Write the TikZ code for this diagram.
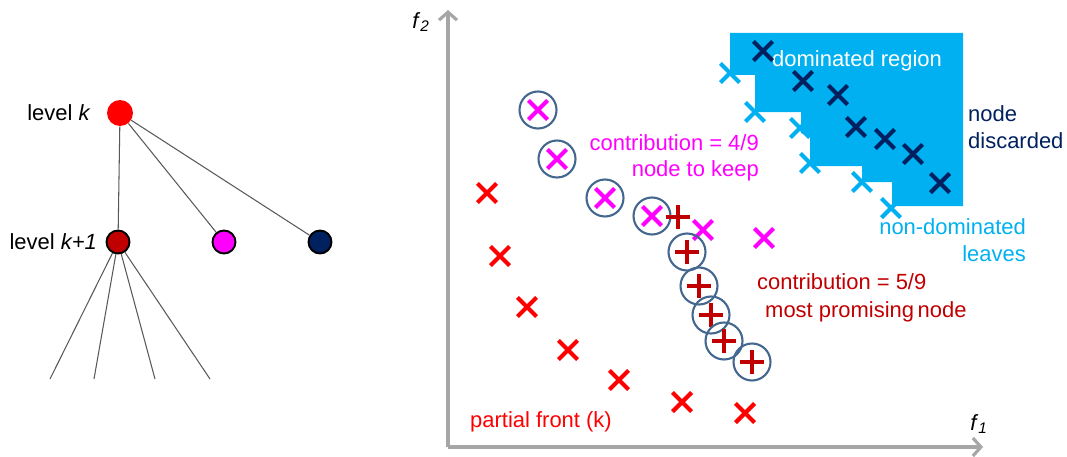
\documentclass[tikz,border=0pt]{standalone}
\usepackage{fontspec}
\setmainfont{Liberation Sans}
\usepackage{tikz}
\usetikzlibrary{positioning, arrows.meta, shapes.misc}
\definecolor{fRed}{HTML}{FF0000}
\definecolor{fDarkRed}{HTML}{C00000}
\definecolor{fMagenta}{HTML}{FF00FF}
\definecolor{fNavy}{HTML}{002060}
\definecolor{fCyan}{HTML}{00B0F0}
\definecolor{fRing}{HTML}{44678F}
\definecolor{fAxis}{HTML}{A6A6A6}
\tikzset{
	every node/.style={font=\fontsize{12.5}{15}\selectfont},
	xmark/.style={cross out, draw, line width=2.4pt, minimum size=0.3cm, inner sep=0pt},
	pmark/.style={xmark, rotate=45, minimum size=0.26cm, draw=fDarkRed},
	ring/.style={circle, draw=fRing, line width=1.2pt, minimum size=0.74cm, inner sep=0pt},
	axis/.style={draw=fAxis, line width=1.8pt, -{Straight Barb[length=0.16cm, width=0.36cm]}},
	branch/.style={draw=black!65, line width=0.6pt},
	kid/.style={circle, draw=black, line width=1.1pt, minimum size=0.46cm, inner sep=0pt},
}

\begin{document}
\begin{tikzpicture}[x=0.02cm, y=-0.02cm]
	\useasboundingbox (0,0) rectangle (1067,456);

	\node[circle, fill=fRed, minimum size=0.52cm, inner sep=0pt] (LK) at (120,113) {};
	\node[kid, fill=fDarkRed] (K1) at (118,242) {};
	\node[kid, fill=fMagenta] (K2) at (224,242) {};
	\node[kid, fill=fNavy] (K3) at (320,242) {};
	\node[left=0.2cm of LK] (LKtxt) {level \textit{k}};
	\node[left=0.05cm of K1] (K1txt) {level \textit{k+1}};
	\foreach \x [count=\i] in {50,94,155,210}
		\coordinate (g\i) at (\x,379);
	\draw[branch] (LK) -- (K1);
	\draw[branch] (LK) -- (K2);
	\draw[branch] (LK) -- (K3);
	\foreach \i in {1,...,4}
		\draw[branch] (K1) -- (g\i);

	\coordinate (O) at (448,447);
	\coordinate (ytop) at (448,10);
	\coordinate (xend) at (983,447);
	\draw[axis] (O) -- (ytop);
	\draw[axis] (O) -- (xend);
	\node at (421,22) (f2) {\textit{f}\textsubscript{\textit{2}}};
	\node at (979,424) (f1) {\textit{f}\textsubscript{\textit{1}}};

	\fill[fCyan] (730,33) -- (963,33) -- (963,206) -- (892,206) -- (892,182) -- (862,182) -- (862,166)
		-- (810,166) -- (810,137) -- (801,133) -- (801,112) -- (755,112) -- (755,75) -- (730,75) -- cycle;
	\node[anchor=west, text=white] (dom) at (766,61) {dominated region};

	\foreach \x/\y [count=\i] in {763/51, 803/81, 838/95, 856/127, 885/139, 913/154, 940/183}
		\node[xmark, draw=fNavy] (d\i) at (\x,\y) {};
	\foreach \x/\y [count=\i] in {730/73, 755/112, 800/128, 810/163, 862/182, 891/208}
		\node[xmark, draw=fCyan] (l\i) at (\x,\y) {};
	\node[anchor=west, align=left, text=fNavy] (disc) at (962,127) {node\\discarded};
	\node[anchor=east, align=right, text=fCyan] (nondom) at (1032,240) {non-dominated\\leaves};

	\foreach \x/\y [count=\i] in {538/110, 557/159, 605/198, 652/216}
	{
		\node[xmark, draw=fMagenta] (m\i) at (\x,\y) {};
		\node[ring] at (m\i) {};
	}
	\node[xmark, draw=fMagenta] (m5) at (703,230) {};
	\node[xmark, draw=fMagenta] (m6) at (764,238) {};
	\node[anchor=east, align=right, text=fMagenta] (keep) at (765,158) {contribution = 4/9\\node to keep};

	\node[pmark] (p0) at (678,217) {};
	\foreach \x/\y [count=\i] in {687/252, 699/286, 711/315, 724/341, 752/362}
	{
		\node[pmark] (p\i) at (\x,\y) {};
		\node[ring] at (p\i) {};
	}
	\node[anchor=west, text=fDarkRed] (best) at (751,282) {contribution = 5/9};
	\node[anchor=west, text=fDarkRed] (best2) at (759,312) {most promising\,node};

	\foreach \x/\y [count=\i] in {487/193, 500/256, 527/307, 568/350, 619/380, 682/402, 745/413}
		\node[xmark, draw=fRed] (r\i) at (\x,\y) {};
	\node[anchor=west, text=fRed] (front) at (464,422) {partial front (k)};
\end{tikzpicture}
\end{document}
